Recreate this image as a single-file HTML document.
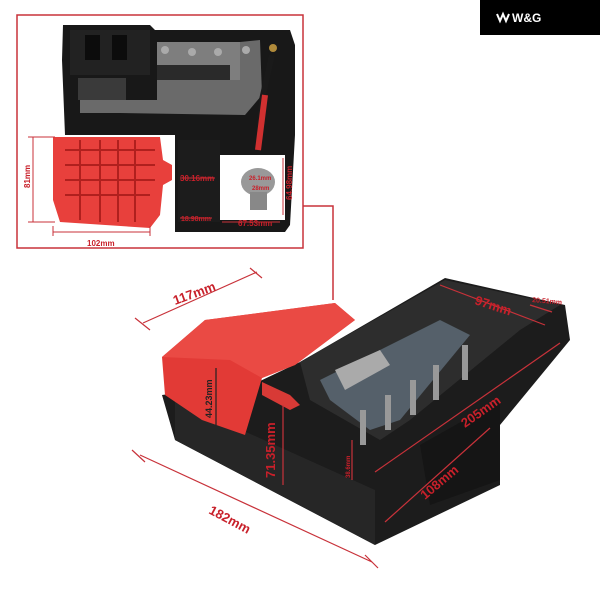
<!DOCTYPE html>
<html><head><meta charset="utf-8"><style>
html,body{margin:0;padding:0;background:#fff;width:600px;height:600px;overflow:hidden}
svg{display:block}
text{font-family:"Liberation Sans",sans-serif;font-weight:bold;fill:#c8202a}
</style></head><body>
<svg width="600" height="600" viewBox="0 0 600 600" xmlns="http://www.w3.org/2000/svg">
<rect width="600" height="600" fill="#fff"/>
<rect x="480" y="0" width="120" height="35" fill="#000"/>
<text x="512" y="22" font-size="12" style="fill:#fff">W&amp;G</text>
<path d="M497 14 l3 7 l3 -7 l3 7 l3 -7" stroke="#fff" stroke-width="2" fill="none"/>

<rect x="17" y="15" width="286" height="233" fill="none" stroke="#c8323a" stroke-width="1.5"/>
<path d="M303 206 H333 V300" fill="none" stroke="#c8323a" stroke-width="1.5"/>

<polygon points="63,25 150,25 155,30 290,30 295,45 295,135 290,225 285,232 175,232 175,135 65,135 62,60" fill="#181818"/>
<rect x="70" y="30" width="80" height="45" fill="#222"/>
<rect x="85" y="35" width="15" height="25" fill="#0c0c0c"/><rect x="112" y="35" width="15" height="25" fill="#0c0c0c"/>
<rect x="78" y="78" width="48" height="22" fill="#3a3a3a"/>
<polygon points="157,42 240,42 260,40 262,95 245,115 120,113 80,113 80,100 157,100" fill="#6a6a6a"/>
<polygon points="157,42 240,42 240,80 157,80" fill="#7e7e7e"/>
<rect x="157" y="65" width="73" height="15" fill="#2a2a2a"/>
<circle cx="165" cy="50" r="4" fill="#aaa"/><circle cx="192" cy="52" r="4" fill="#aaa"/><circle cx="218" cy="52" r="4" fill="#aaa"/><circle cx="246" cy="50" r="4" fill="#aaa"/>
<circle cx="273" cy="48" r="4" fill="#b08a3a"/>
<path d="M272 55 L262 100 L258 150" stroke="#1a1a1a" stroke-width="6" fill="none"/>
<path d="M265 95 L258 150" stroke="#d03030" stroke-width="6" fill="none"/>
<rect x="218" y="155" width="67" height="65" fill="#fff"/>
<rect x="178" y="140" width="42" height="82" fill="#1c1c1c"/>
<ellipse cx="258" cy="182" rx="17" ry="14" fill="#999"/>
<rect x="250" y="192" width="17" height="18" fill="#888"/>
<text x="249" y="180" font-size="6">26.1mm</text><text x="252" y="190" font-size="6">28mm</text>
<polygon points="53,137 160,137 163,160 172,165 172,180 163,185 160,215 150,228 60,222 53,200" fill="#e8403c"/>
<g stroke="#b0201e" stroke-width="2" fill="none">
<path d="M65 150 H155 M65 165 H155 M65 180 H155 M65 195 H150 M80 140 V220 M100 140 V222 M118 140 V222 M135 140 V222"/>
</g>
<g stroke="#c8323a" stroke-width="1">
<path d="M33 137 V222 M28 137 H55 M28 222 H55"/>
<path d="M53 232 H150 M53 226 V236 M150 226 V236"/>
<path d="M180 178 H215"/><path d="M222 222 H280"/><path d="M283 158 V215"/><path d="M180 218 H212"/>
</g>
<text x="0" y="0" font-size="8" transform="translate(30,188) rotate(-90)">81mm</text>
<text x="87" y="246" font-size="8">102mm</text>
<text x="180" y="181" font-size="8">30.16mm</text>
<text x="238" y="226" font-size="8">67.53mm</text>
<text x="181" y="221" font-size="7">18.98mm</text>
<text x="0" y="0" font-size="8" transform="translate(292,200) rotate(-90)">64.98mm</text>

<polygon points="162,395 175,440 375,545 500,485 500,425 570,340 565,305 445,278 300,362 258,382" fill="#1c1c1c"/>
<polygon points="175,440 375,545 375,490 175,400" fill="#262626"/>
<polygon points="300,362 445,280 560,305 520,330 410,420 380,440 310,400" fill="#2d2d2d"/>
<polygon points="320,380 440,320 470,335 400,420 370,430 330,400" fill="#55606a"/>
<polygon points="335,370 380,350 390,365 345,390" fill="#aaa"/>
<g fill="#999"><rect x="360" y="410" width="6" height="35"/><rect x="385" y="395" width="6" height="35"/><rect x="410" y="380" width="6" height="35"/><rect x="433" y="365" width="6" height="35"/><rect x="462" y="345" width="6" height="35"/></g>
<polygon points="420,445 500,400 500,480 430,505" fill="#151515"/>
<polygon points="162,357 205,320 335,303 355,320 295,365 262,378 245,435 202,420 165,395" fill="#e23a36"/>
<polygon points="162,357 205,320 335,303 355,320 295,365 262,378 230,360" fill="#ea4a44"/>
<polygon points="262,382 290,395 300,405 290,410 262,395" fill="#d83a36"/>

<g stroke="#c8323a" stroke-width="1.2" fill="none">
<path d="M143 323 L257 272 M135 318 L150 330 M250 268 L262 278"/>
<path d="M140 455 L372 562 M132 450 L145 462 M365 555 L378 568"/>
<path d="M440 285 L545 325"/>
<path d="M375 472 L560 343"/>
<path d="M385 522 L490 428"/>
<path d="M283 405 V485"/>
<path d="M352 440 V480"/>
<path d="M530 305 L552 312"/>
</g>
<path d="M216 368 V425" stroke="#222" stroke-width="1.2"/>
<text x="0" y="0" font-size="13" transform="translate(175,305) rotate(-20)">117mm</text>
<text x="0" y="0" font-size="13" transform="translate(208,513) rotate(28)">182mm</text>
<text x="0" y="0" font-size="13" transform="translate(474,304) rotate(18)">97mm</text>
<text x="0" y="0" font-size="7" transform="translate(532,302) rotate(5)">20.51mm</text>
<text x="0" y="0" font-size="13" transform="translate(465,428) rotate(-35)">205mm</text>
<text x="0" y="0" font-size="13" transform="translate(425,500) rotate(-40)">108mm</text>
<text x="0" y="0" font-size="13" transform="translate(275,478) rotate(-90)">71.35mm</text>
<text x="0" y="0" font-size="9" transform="translate(212,418) rotate(-90)" style="fill:#222">44.23mm</text>
<text x="0" y="0" font-size="6" transform="translate(350,478) rotate(-90)">38.6mm</text>
</svg>
</body></html>
